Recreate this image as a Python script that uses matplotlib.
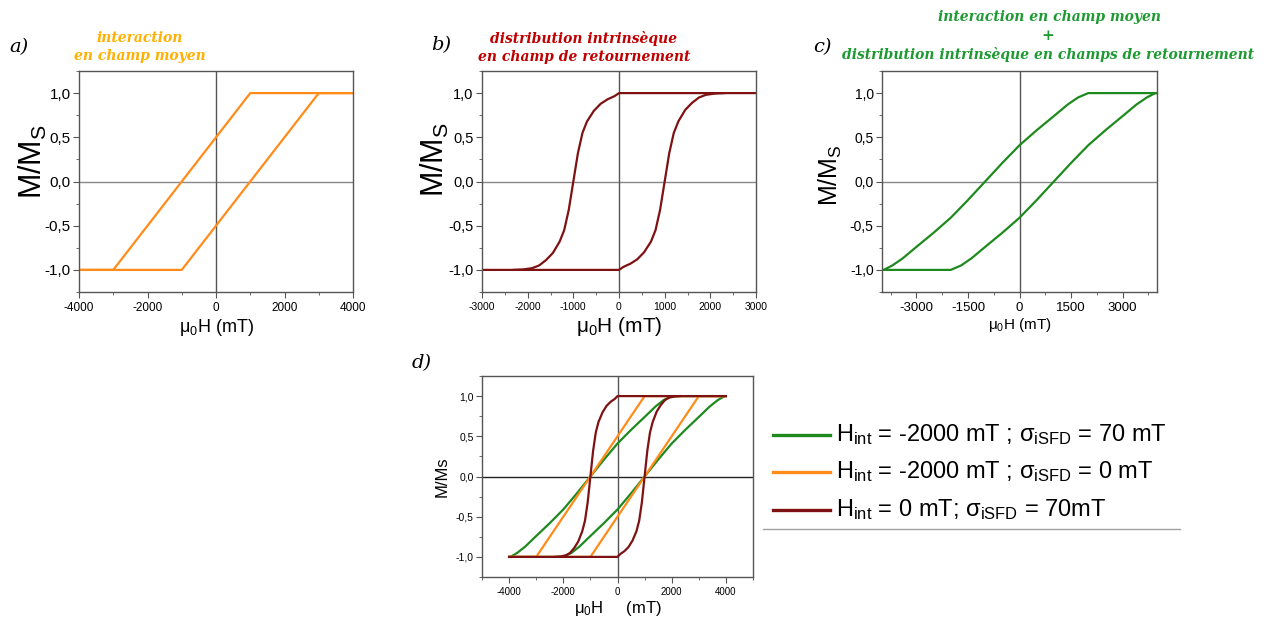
import matplotlib
matplotlib.use("Agg")
import matplotlib.pyplot as plt
from matplotlib.lines import Line2D
from matplotlib.ticker import MultipleLocator, FuncFormatter

plt.rcParams['font.family'] = ['Liberation Sans', 'DejaVu Sans']
plt.rcParams['mathtext.fontset'] = 'custom'
plt.rcParams['mathtext.rm'] = 'Liberation Sans'
plt.rcParams['mathtext.it'] = 'Liberation Sans:italic'
plt.rcParams['mathtext.sf'] = 'Liberation Sans'
plt.rcParams['axes.unicode_minus'] = False

# mean-field interaction only (orange)
h_mf_desc = [4000, 1000, -3000, -4000]
m_mf_desc = [1.0, 1.0, -1.0, -1.0]
h_mf_asc = [-4000, -1000, 3000, 4000]
m_mf_asc = [-1.0, -1.0, 1.0, 1.0]

# intrinsic switching field distribution only (dark red)
h_sfd_desc = [4000, 0, -100, -250, -400, -550, -700, -800, -900, -1000,
              -1100, -1200, -1300, -1450, -1600, -1750, -1900, -2100, -2300]
m_sfd_desc = [1.0, 1.0, 0.965, 0.93, 0.88, 0.80, 0.68, 0.55, 0.32, 0.0,
              -0.32, -0.55, -0.68, -0.81, -0.89, -0.95, -0.98, -0.995, -1.0]
h_sfd_asc = [-4000, 0, 100, 250, 400, 550, 700, 800, 900, 1000,
             1100, 1200, 1300, 1450, 1600, 1750, 1900, 2100, 2300]
m_sfd_asc = [-1.0, -1.0, -0.965, -0.93, -0.88, -0.80, -0.68, -0.55, -0.32, 0.0,
             0.32, 0.55, 0.68, 0.81, 0.89, 0.95, 0.98, 0.995, 1.0]

# both effects (green)
h_comb_desc = [4000, 2000, 1700, 1400, 1000, 500, 0, -500, -1000,
               -1500, -2000, -2500, -3000, -3400, -3700, -3950, -4000]
m_comb_desc = [1.0, 1.0, 0.95, 0.87, 0.74, 0.58, 0.41, 0.21, 0.0,
               -0.21, -0.41, -0.58, -0.74, -0.87, -0.95, -1.0, -1.0]
h_comb_asc = [-4000, -2000, -1700, -1400, -1000, -500, 0, 500, 1000,
              1500, 2000, 2500, 3000, 3400, 3700, 3950, 4000]
m_comb_asc = [-1.0, -1.0, -0.95, -0.87, -0.74, -0.58, -0.41, -0.21, 0.0,
              0.21, 0.41, 0.58, 0.74, 0.87, 0.95, 1.0, 1.0]

legend_labels = [
    r'H$_{\mathregular{int}}$ = -2000 mT ; σ$_{\mathregular{iSFD}}$ = 70 mT',
    r'H$_{\mathregular{int}}$ = -2000 mT ; σ$_{\mathregular{iSFD}}$ = 0 mT',
    r'H$_{\mathregular{int}}$ = 0 mT; σ$_{\mathregular{iSFD}}$ = 70mT',
]

C_OR = '#FF8C1A'
C_RED = '#7E1212'
C_GR = '#1E8A1E'

W, H = 1272, 619
fig = plt.figure(figsize=(W / 100, H / 100), dpi=100)


def box(x0, y0, x1, y1):
    return [x0 / W, 1 - y1 / H, (x1 - x0) / W, (y1 - y0) / H]


comma = FuncFormatter(lambda v, p: f"{v:.1f}".replace('.', ','))


def style(ax, xlim, xmaj, xmin, xfs, yfs, zero_col='#888888'):
    ax.set_xlim(*xlim)
    ax.set_ylim(-1.25, 1.25)
    ax.xaxis.set_major_locator(MultipleLocator(xmaj))
    ax.xaxis.set_minor_locator(MultipleLocator(xmin))
    ax.yaxis.set_major_locator(MultipleLocator(0.5))
    ax.yaxis.set_minor_locator(MultipleLocator(0.25))
    ax.yaxis.set_major_formatter(comma)
    ax.tick_params(which='both', direction='out', top=False, right=False, color='#555555')
    ax.tick_params(which='major', length=4)
    ax.tick_params(which='minor', length=2)
    ax.tick_params(axis='x', labelsize=xfs, pad=3)
    ax.tick_params(axis='y', labelsize=yfs, pad=2)
    for s in ax.spines.values():
        s.set_color('#555555')
        s.set_linewidth(1)
    ax.axhline(0, color=zero_col, lw=1, zorder=1)
    ax.axvline(0, color='#555555', lw=1, zorder=1)


title_kw = dict(family='DejaVu Serif', style='italic', weight='bold', ha='center', va='center')
lab_kw = dict(family='DejaVu Serif', style='italic', fontsize=14, ha='center', va='center')

# a)
ax = fig.add_axes(box(79, 71, 353, 292))
ax.plot(h_mf_desc, m_mf_desc, color=C_OR, lw=1.6)
ax.plot(h_mf_asc, m_mf_asc, color=C_OR, lw=1.6)
style(ax, (-4000, 4000), 2000, 1000, 8.5, 11)
ax.set_ylabel(r'M/M$_{\mathregular{S}}$', fontsize=22)
ax.yaxis.set_label_coords(-0.11, 0.59)
ax.set_xlabel(r'μ$_{\mathregular{0}}$H (mT)', fontsize=13, labelpad=2)
fig.text(19 / W, 1 - 47 / H, 'a)', **lab_kw)
fig.text(140 / W, 1 - 38 / H, 'interaction', color='#FFB000', fontsize=10, **title_kw)
fig.text(140 / W, 1 - 56 / H, 'en champ moyen', color='#FFB000', fontsize=10, **title_kw)

# b)
ax = fig.add_axes(box(482, 71, 756, 292))
ax.plot(h_sfd_desc, m_sfd_desc, color=C_RED, lw=1.6)
ax.plot(h_sfd_asc, m_sfd_asc, color=C_RED, lw=1.6)
style(ax, (-3000, 3000), 1000, 500, 7.5, 10.5)
ax.set_ylabel(r'M/M$_{\mathregular{S}}$', fontsize=22)
ax.yaxis.set_label_coords(-0.112, 0.6)
ax.set_xlabel(r'μ$_{\mathregular{0}}$H (mT)', fontsize=15, labelpad=2)
fig.text(441 / W, 1 - 45 / H, 'b)', **lab_kw)
fig.text(584 / W, 1 - 39 / H, 'distribution intrinsèque', color='#C00000', fontsize=10, **title_kw)
fig.text(584 / W, 1 - 57 / H, 'en champ de retournement', color='#C00000', fontsize=10, **title_kw)

# c)
ax = fig.add_axes(box(882, 71, 1157, 292))
ax.plot(h_comb_desc, m_comb_desc, color=C_GR, lw=1.6)
ax.plot(h_comb_asc, m_comb_asc, color=C_GR, lw=1.6)
style(ax, (-4000, 4000), 1500, 750, 9.5, 10)
ax.set_ylabel(r'M/M$_{\mathregular{S}}$', fontsize=18)
ax.yaxis.set_label_coords(-0.14, 0.53)
ax.set_xlabel(r'μ$_{\mathregular{0}}$H (mT)', fontsize=11, labelpad=2)
fig.text(822 / W, 1 - 47 / H, 'c)', **lab_kw)
fig.text(1049 / W, 1 - 17 / H, 'interaction en champ moyen', color='#1E9A32', fontsize=10, **title_kw)
fig.text(1048 / W, 1 - 36 / H, '+', color='#1E9A32', fontsize=11, **title_kw)
fig.text(1048 / W, 1 - 54 / H, 'distribution intrinsèque en champs de retournement',
         color='#1E9A32', fontsize=10, **title_kw)

# d)
ax = fig.add_axes(box(482, 376, 753, 577))
lg, = ax.plot(h_comb_desc, m_comb_desc, color=C_GR, lw=1.6)
ax.plot(h_comb_asc, m_comb_asc, color=C_GR, lw=1.6)
lo, = ax.plot(h_mf_desc, m_mf_desc, color=C_OR, lw=1.6)
ax.plot(h_mf_asc, m_mf_asc, color=C_OR, lw=1.6)
lr, = ax.plot(h_sfd_desc, m_sfd_desc, color=C_RED, lw=1.6)
ax.plot(h_sfd_asc, m_sfd_asc, color=C_RED, lw=1.6)
style(ax, (-5000, 5000), 2000, 1000, 7, 7.5, zero_col='#222222')
ax.set_ylabel('M/Ms', fontsize=12, labelpad=4)
ax.set_xlabel(r'μ$_{\mathregular{0}}$H     (mT)', fontsize=12, labelpad=2)
fig.text(422 / W, 1 - 363 / H, 'd)', **lab_kw)

# legend drawn by hand next to panel d
rows_y = [435, 472, 510]
for line, lab, yy in zip([lg, lo, lr], legend_labels, rows_y):
    fig.add_artist(Line2D([773 / W, 830 / W], [1 - yy / H] * 2, color=line.get_color(), lw=2.4))
    fig.text(836 / W, 1 - yy / H, lab, fontsize=17, ha='left', va='center')
fig.add_artist(Line2D([763 / W, 1180 / W], [1 - 529 / H] * 2, color='#A0A0A0', lw=1))

fig.savefig('out.png', dpi=100)
